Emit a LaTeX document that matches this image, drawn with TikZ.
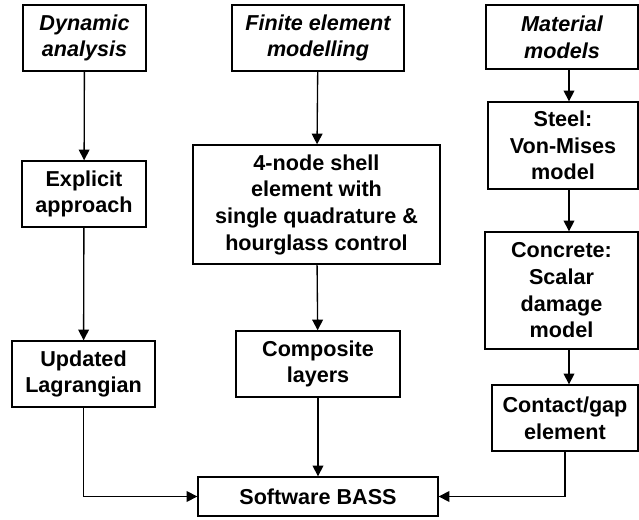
\documentclass[tikz,border=0pt]{standalone}
\usepackage{fontspec}
\setmainfont{Liberation Sans}
\usetikzlibrary{arrows.meta, positioning}
\newcommand{\pxu}{0.75pt}

\begin{document}
\begin{tikzpicture}[
      x=0.75pt, y=-0.75pt,
      font=\fontsize{16.2}{20}\selectfont\bfseries,
      block/.style={draw, line width=1pt, align=center, inner sep=0pt},
      topic/.style={block, font=\fontsize{16.2}{20}\selectfont\bfseries\itshape},
      arrow/.style={-{Triangle[length=8pt, width=8pt]}, line width=1pt}
    ]
    \useasboundingbox (0,0) rectangle (639,520);
    \coordinate (rx) at (569,0);

    % top row
    \node[topic, minimum width=123*\pxu, minimum height=66*\pxu] at (84.5,38) (dyn) {Dynamic\\analysis};
    \node[topic, minimum width=172*\pxu, minimum height=66*\pxu] at (318,38) (fem) {Finite element\\modelling};
    \node[topic, minimum width=152*\pxu, minimum height=64*\pxu] at (562,37) (mat) {Material\\models};

    % left column
    \node[block, minimum width=124*\pxu, minimum height=66*\pxu] at (84,194) (expl) {Explicit\\approach};
    \node[block, minimum width=143*\pxu, minimum height=66*\pxu] at (83.5,374) (upd) {Updated\\Lagrangian};

    % middle column
    \node[block, minimum width=247*\pxu, minimum height=119*\pxu] at (316.5,204.5) (shell)
      {4-node shell\\element with\\single quadrature \&\\hourglass control};
    \node[block, minimum width=164*\pxu, minimum height=66*\pxu] at (318,364) (comp) {Composite\\layers};
    \node[block, minimum width=240*\pxu, minimum height=39*\pxu] at (318,496.5) (bass) {Software BASS};

    % right column
    \node[block, minimum width=150*\pxu, minimum height=87*\pxu] at (563,145.5) (steel) {Steel:\\Von-Mises\\model};
    \node[block, minimum width=153*\pxu, minimum height=117*\pxu] at (561.5,290.5) (conc)
      {Concrete:\\Scalar\\damage\\model};
    \node[block, minimum width=146*\pxu, minimum height=66*\pxu] at (565,418) (contact) {Contact/gap\\element};

    \draw[arrow] (dyn) -- (expl);
    \draw[arrow] (expl) -- (upd);
    \draw[arrow] (fem) -- (shell);
    \draw[arrow] (shell) -- (comp);
    \draw[arrow] (comp) -- (bass);
    \draw[arrow] (mat.south -| rx) -- (steel.north -| rx);
    \draw[arrow] (steel.south -| rx) -- (conc.north -| rx);
    \draw[arrow] (conc.south -| rx) -- (contact.north -| rx);
    \draw[arrow] (upd.south) |- (bass.west);
    \draw[arrow] (contact.south) |- (bass.east);
  \end{tikzpicture}
\end{document}
